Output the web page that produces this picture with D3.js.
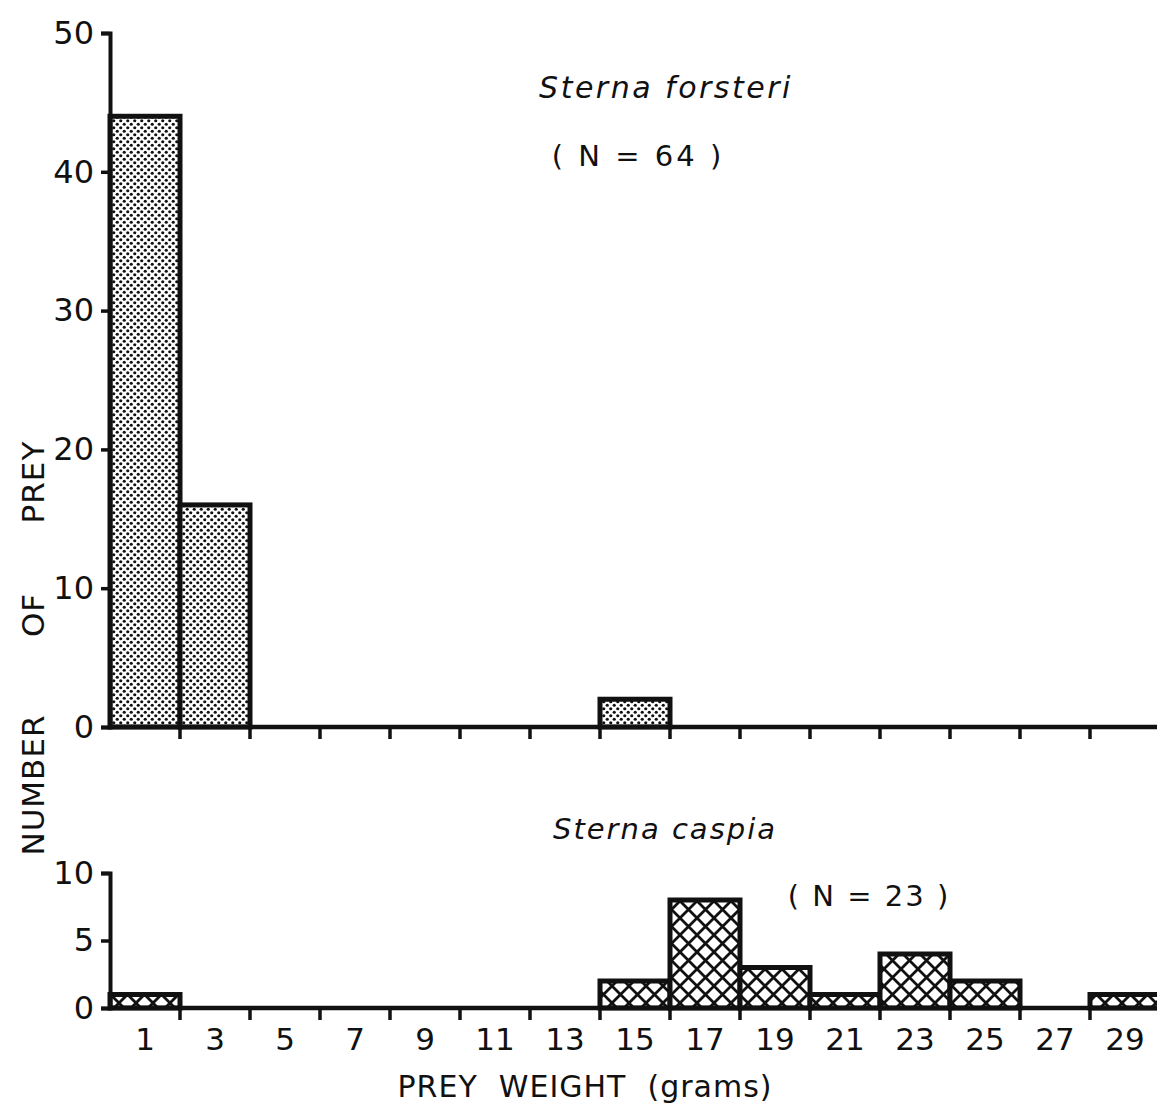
<!DOCTYPE html>
<html>
<head>
<meta charset="utf-8">
<script src="https://cdn.jsdelivr.net/npm/d3@7"></script>
<style>
  body { margin: 0; background: #fff; }
  text { font-family: "DejaVu Sans", sans-serif; fill: #111; }
</style>
</head>
<body>
<div id="container"></div>
<script>
/* DATA */
const bins = ["1","3","5","7","9","11","13","15","17","19","21","23","25","27","29"];
const forsteri = [44, 16, 0, 0, 0, 0, 0, 2, 0, 0, 0, 0, 0, 0, 0];
const caspia   = [1, 0, 0, 0, 0, 0, 0, 2, 8, 3, 1, 4, 2, 0, 1];
const topTicks = [0, 10, 20, 30, 40, 50];
const bottomTicks = [0, 5, 10];

/* CONSTANTS */
const width = 1157, height = 1107;
const x0 = 110;

const svg = d3.select("#container")
  .append("svg")
  .attr("width", width)
  .attr("height", height)

const defs = svg.append("defs")

// stipple for the top panel
const dots = defs.append("pattern")
  .attr("id", "dots")
  .attr("patternUnits", "userSpaceOnUse")
  .attr("width", 7).attr("height", 7)
dots.append("rect").attr("width", 7).attr("height", 7).attr("fill", "#fff")
dots.append("circle").attr("cx", 1.75).attr("cy", 1.75).attr("r", 1.6).attr("fill", "#111")
dots.append("circle").attr("cx", 5.25).attr("cy", 5.25).attr("r", 1.6).attr("fill", "#111")

// cross hatch for the bottom panel
const hatch = defs.append("pattern")
  .attr("id", "hatch")
  .attr("patternUnits", "userSpaceOnUse")
  .attr("width", 17).attr("height", 17)
hatch.append("rect").attr("width", 17).attr("height", 17).attr("fill", "#fff")
hatch.append("path")
  .attr("d", "M0,0 L17,17 M17,0 L0,17 M-8.5,8.5 L8.5,25.5 M8.5,-8.5 L25.5,8.5 M-8.5,8.5 L8.5,-8.5 M8.5,25.5 L25.5,8.5")
  .attr("stroke", "#111").attr("stroke-width", 2.8)

/* SCALES */
const xScale = d3.scaleBand()
  .domain(bins)
  .range([x0, 1160])
  .padding(0)

const yTop = d3.scaleLinear().domain([0, 50]).range([727, 33])
const yBot = d3.scaleLinear().domain([0, 10]).range([1008, 873])

function panel(data, yScale, ticks, fill) {
  const g = svg.append("g")

  g.selectAll("rect.bar")
    .data(data.map((v, i) => ({bin: bins[i], v})).filter(d => d.v > 0))
    .join("rect")
    .attr("class", "bar")
    .attr("x", d => xScale(d.bin))
    .attr("y", d => yScale(d.v))
    .attr("width", xScale.bandwidth())
    .attr("height", d => yScale(0) - yScale(d.v))
    .attr("fill", fill)
    .attr("stroke", "#111")
    .attr("stroke-width", 5)

  // y axis
  const yAxis = d3.axisLeft(yScale).tickValues(ticks).tickSize(9).tickPadding(7)
  const ya = g.append("g")
    .attr("transform", `translate(${x0},0)`)
    .call(yAxis)
  ya.select(".domain").attr("stroke-width", 4).attr("stroke", "#111")
  ya.selectAll(".tick line").attr("stroke-width", 3.5).attr("stroke", "#111")
  ya.selectAll(".tick text").attr("font-size", 32).attr("fill", "#111")

  // baseline with downward ticks at bin edges
  g.append("line")
    .attr("x1", x0 - 2).attr("x2", width)
    .attr("y1", yScale(0)).attr("y2", yScale(0))
    .attr("stroke", "#111").attr("stroke-width", 4.5)
  g.selectAll("line.xt")
    .data(bins.slice(1))
    .join("line")
    .attr("class", "xt")
    .attr("x1", d => xScale(d)).attr("x2", d => xScale(d))
    .attr("y1", yScale(0)).attr("y2", yScale(0) + 12)
    .attr("stroke", "#111").attr("stroke-width", 3.5)
}

panel(forsteri, yTop, topTicks, "url(#dots)")
panel(caspia, yBot, bottomTicks, "url(#hatch)")

// x tick labels (bottom panel only)
svg.selectAll("text.xl")
  .data(bins)
  .join("text")
  .attr("class", "xl")
  .attr("x", d => xScale(d) + xScale.bandwidth() / 2)
  .attr("y", 1050)
  .attr("text-anchor", "middle")
  .attr("font-size", 31)
  .text(d => d)

/* LABELS */
svg.append("text")
  .attr("x", 666).attr("y", 98)
  .attr("text-anchor", "middle")
  .attr("font-size", 30)
  .attr("font-style", "italic")
  .attr("letter-spacing", 2.5)
  .text("Sterna forsteri")

svg.append("text")
  .attr("x", 638).attr("y", 166)
  .attr("text-anchor", "middle")
  .attr("font-size", 29)
  .attr("letter-spacing", 3)
  .text("( N = 64 )")

svg.append("text")
  .attr("x", 665).attr("y", 839)
  .attr("text-anchor", "middle")
  .attr("font-size", 29)
  .attr("font-style", "italic")
  .attr("letter-spacing", 2)
  .text("Sterna caspia")

svg.append("text")
  .attr("x", 869).attr("y", 906)
  .attr("text-anchor", "middle")
  .attr("font-size", 29)
  .attr("letter-spacing", 2)
  .text("( N = 23 )")

svg.append("text")
  .attr("x", 585).attr("y", 1097)
  .attr("text-anchor", "middle")
  .attr("font-size", 30)
  .attr("letter-spacing", 1)
  .style("white-space", "pre")
  .text("PREY  WEIGHT  (grams)")

// y label, words spaced out as in the original lettering
const yWords = ["NUMBER", "OF", "PREY"];
const yWordPos = [785, 615, 482];
svg.selectAll("text.yl")
  .data(yWords)
  .join("text")
  .attr("class", "yl")
  .attr("transform", (d, i) => `translate(44,${yWordPos[i]}) rotate(-90)`)
  .attr("text-anchor", "middle")
  .attr("font-size", 31)
  .attr("letter-spacing", 1)
  .text(d => d)
</script>
</body>
</html>
